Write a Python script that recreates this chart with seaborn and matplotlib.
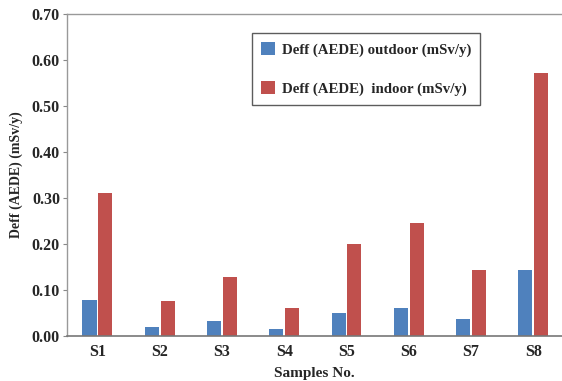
import matplotlib
matplotlib.use("Agg")
import matplotlib.pyplot as plt
import seaborn as sns
import pandas as pd

samples = ["S1", "S2", "S3", "S4", "S5", "S6", "S7", "S8"]
outdoor = [0.078, 0.019, 0.033, 0.016, 0.050, 0.062, 0.037, 0.143]
indoor = [0.311, 0.076, 0.128, 0.062, 0.201, 0.245, 0.143, 0.572]
series_names = ["Deff (AEDE) outdoor (mSv/y)", "Deff (AEDE)  indoor (mSv/y)"]
y_ticks = [0.0, 0.1, 0.2, 0.3, 0.4, 0.5, 0.6, 0.7]

df = pd.DataFrame({
    "sample": samples * 2,
    "value": outdoor + indoor,
    "series": [series_names[0]] * len(samples) + [series_names[1]] * len(samples),
})

sns.set_style("white")
plt.rcParams["font.family"] = ["Liberation Serif", "DejaVu Serif"]
plt.rcParams["font.weight"] = "bold"

fig = plt.figure(figsize=(5.62, 3.81), dpi=100)
ax = fig.add_axes([0.119, 0.118, 0.881, 0.845])

sns.barplot(data=df, x="sample", y="value", hue="series",
            palette=["#4F81BD", "#C0504D"], width=0.507, gap=0.11,
            saturation=1, edgecolor="none", ax=ax)

ax.set_xlim(-0.49, 7.46)
ax.set_ylim(0, 0.7)
ax.set_yticks(y_ticks)
ax.set_yticklabels([f"{t:.2f}" for t in y_ticks], fontsize=11.5, fontweight="bold")
ax.set_xticks(range(len(samples)))
ax.set_xticklabels(samples, fontsize=11.5, fontweight="bold")
ax.tick_params(axis="x", length=0, pad=6)
ax.tick_params(axis="y", length=3, width=0.8, color="#888888", pad=2, left=True)

ax.set_xlabel("Samples No.", fontsize=11, fontweight="bold", labelpad=5)
ax.set_ylabel("Deff (AEDE) (mSv/y)", fontsize=10, fontweight="bold", labelpad=6)

for side in ["left", "top"]:
    ax.spines[side].set_color("#999999")
    ax.spines[side].set_linewidth(1.0)
ax.spines["bottom"].set_color("#777777")
ax.spines["bottom"].set_linewidth(1.2)
ax.spines["right"].set_visible(False)

leg = ax.legend(loc="upper left", bbox_to_anchor=(0.374, 0.941), borderaxespad=0,
                frameon=True, fancybox=False, shadow=False,
                prop={"size": 10.7, "weight": "bold"},
                handlelength=0.97, handleheight=0.97, handletextpad=0.45,
                labelspacing=1.65, borderpad=0.6)
leg.get_frame().set_edgecolor("#333333")
leg.get_frame().set_linewidth(1.0)
leg.set_title(None)

fig.savefig("out.png", dpi=100)
